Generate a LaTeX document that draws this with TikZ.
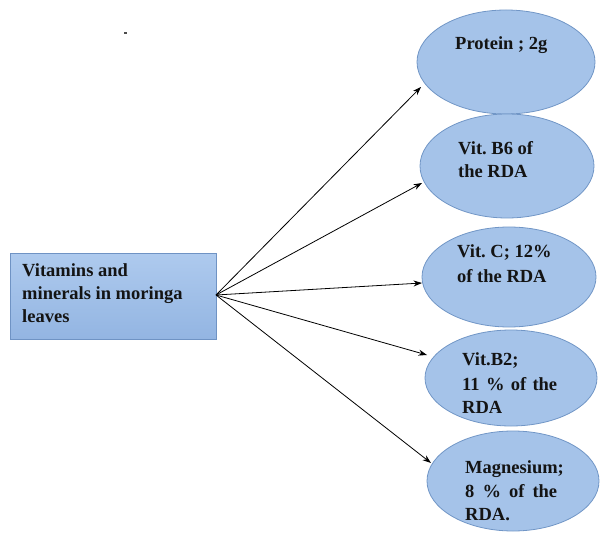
\documentclass[tikz,border=0pt]{standalone}
\usepackage{fontspec}
\setmainfont{Liberation Serif}
\usetikzlibrary{shapes.geometric,arrows.meta}
\definecolor{ellfill}{HTML}{A5C3E9}
\definecolor{ellline}{HTML}{7196C6}
\definecolor{boxtop}{HTML}{AECAEE}
\definecolor{boxbot}{HTML}{93B5E2}
\definecolor{boxline}{HTML}{6F93C4}
\definecolor{txt}{HTML}{141414}
\frenchspacing
\begin{document}
\begin{tikzpicture}[x=1pt,y=-1pt,
  oval/.style={ellipse,draw=ellline,fill=ellfill,line width=0.8pt,inner sep=0pt},
  lbl/.style={anchor=base west,inner sep=0pt,font=\fontsize{18.5}{20}\selectfont\bfseries\frenchspacing,text=txt},
  arr/.style={-{Stealth[length=8.5pt,width=6pt]},line width=0.8pt,black}]
\useasboundingbox (0,0) rectangle (601,534);
\fill[black!70] (124,32.5) rectangle (127,34);
% source box
\node[draw=boxline,line width=0.8pt,top color=boxtop,bottom color=boxbot,minimum width=206pt,minimum height=86pt,inner sep=0pt] (src) at (113,296) {};
\coordinate (o) at (216,295);
\node[lbl] (s1) at (22,276) {Vitamins and};
\node[lbl] (s2) at (22,299) {minerals in moringa};
\node[lbl] (s3) at (22,322) {leaves};
% ellipses
\node[oval,minimum width=178pt,minimum height=104pt] (e1) at (506,62) {};
\node[oval,minimum width=174pt,minimum height=104pt] (e2) at (507,166) {};
\node[oval,minimum width=174pt,minimum height=100pt] (e3) at (509,277) {};
\node[oval,minimum width=172pt,minimum height=96pt] (e4) at (511,378) {};
\node[oval,minimum width=172pt,minimum height=100pt] (e5) at (513,481) {};
% texts
\node[lbl] (t1) at (455,50) {Protein ; 2g};
\node[lbl] (t2a) at (458,155) {Vit. B6 of};
\node[lbl] (t2b) at (458,178) {the RDA};
\node[lbl] (t3a) at (457,258) {Vit. C; 12\%};
\node[lbl] (t3b) at (457,282) {of the RDA};
\node[lbl] (t4a) at (462,365) {Vit.B2;};
\node[lbl] (t4b) at (462,390) {\makebox[95pt][s]{11 \% of the}};
\node[lbl] (t4c) at (462,413) {RDA};
\node[lbl] (t5a) at (465,473) {Magnesium;};
\node[lbl] (t5b) at (465,497) {\makebox[92pt][s]{8 \% of the}};
\node[lbl] (t5c) at (465,520) {RDA.};
% arrows
\coordinate (a1) at (421,87);
\coordinate (a2) at (422,183);
\coordinate (a3) at (422,283);
\coordinate (a4) at (427,355);
\coordinate (a5) at (431,463);
\draw[arr] (o) -- (a1);
\draw[arr] (o) -- (a2);
\draw[arr] (o) -- (a3);
\draw[arr] (o) -- (a4);
\draw[arr] (o) -- (a5);
\end{tikzpicture}
\end{document}
